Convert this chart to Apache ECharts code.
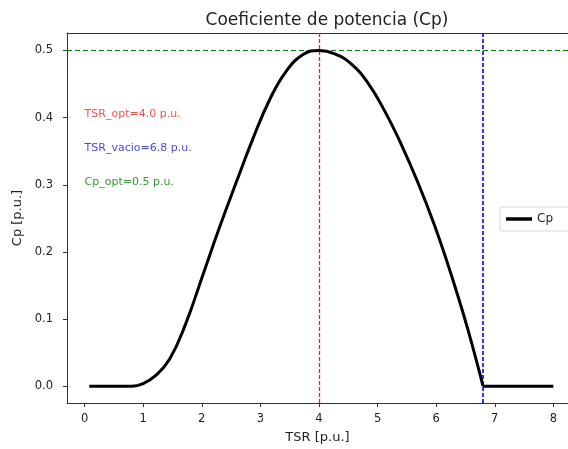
<!DOCTYPE html>
<html>
<head>
<meta charset="utf-8">
<script src="https://cdn.jsdelivr.net/npm/echarts@6/dist/echarts.min.js"></script>
<style>
html, body { margin: 0; padding: 0; background: #fff; }
#chart { width: 568px; height: 449px; }
</style>
</head>
<body>
<div id="chart"></div>
<script>
// curva Cp(TSR)
const tsr = [0.08, 0.5, 0.8, 1.0, 1.2, 1.45, 1.73, 2.02, 2.30, 2.59, 2.87, 3.16, 3.44, 3.73, 4.0,
             4.27, 4.55, 4.84, 5.12, 5.40, 5.69, 5.97, 6.25, 6.53, 6.8]
const cp  = [0, 0, 0, 0.004, 0.015, 0.040, 0.094, 0.166, 0.236, 0.304, 0.368, 0.427, 0.469, 0.494, 0.5,
             0.495, 0.480, 0.451, 0.410, 0.361, 0.303, 0.240, 0.168, 0.088, 0]
// tramo en vacio (Cp = 0)
const tsrTail = [6.8, 8.0]
const cpTail = [0, 0]

const xTicks = [0, 1, 2, 3, 4, 5, 6, 7, 8]
const yTicks = [0, 0.1, 0.2, 0.3, 0.4, 0.5]

const tsrOpt = 4.0
const tsrVacio = 6.8
const cpOpt = 0.5

const annoText = ['TSR_opt=4.0 p.u.', 'TSR_vacio=6.8 p.u.', 'Cp_opt=0.5 p.u.']
const annoY = [0.4, 0.35, 0.3]
const annoColor = ['#ff1a1a', '#1010ff', '#008000']
// linea de referencia de cada anotacion
const refLines = [{ xAxis: tsrOpt }, { xAxis: tsrVacio }, { yAxis: cpOpt }]
const refDash = [[4, 2], [4, 2], [5, 3]]
const refWidth = [1.3, 1.7, 1.1]

const font = 'DejaVu Sans'
const ec = echarts.init(document.getElementById('chart'))

const annoSeries = annoText.map((t, i) => ({
    type: 'scatter',
    data: [[0, annoY[i]]],
    symbolSize: 0,
    silent: true,
    z: 3,
    label: {
        show: true, position: 'right', distance: 0, offset: [0, -3],
        formatter: t, color: annoColor[i], fontFamily: font, fontSize: 11
    },
    markLine: {
        silent: true, symbol: 'none', label: { show: false },
        data: [Object.assign({
            lineStyle: { color: annoColor[i], type: refDash[i], width: refWidth[i], opacity: 1 }
        }, refLines[i])]
    }
}))

const cpLine = {
    name: 'Cp',
    type: 'line',
    symbol: 'none',
    lineStyle: { color: '#000', width: 3 },
    itemStyle: { color: '#000' },
    z: 5
}

const xRange = { type: 'value', min: -0.3, max: 8.25 }

ec.setOption({
    backgroundColor: '#fff',
    animation: false,
    title: {
        text: 'Coeficiente de potencia (Cp)',
        left: 322, top: 7, textAlign: 'center',
        textStyle: { fontFamily: font, fontSize: 17, fontWeight: 'normal', color: '#222' }
    },
    legend: {
        data: [{ name: 'Cp', icon: 'rect' }],
        left: 500, top: 207,
        itemWidth: 26, itemHeight: 3.5, itemGap: 10,
        backgroundColor: '#fff',
        borderColor: '#d8d8d8', borderWidth: 1, borderRadius: 3,
        padding: [6, 20, 6, 6],
        textStyle: { fontFamily: font, fontSize: 12, color: '#222' }
    },
    grid: { left: 67, top: 33, width: 501, height: 371 },
    xAxis: [
        Object.assign({}, xRange, {
            name: 'TSR [p.u.]', nameLocation: 'middle', nameGap: 28,
            nameTextStyle: { fontFamily: font, fontSize: 13, color: '#222' },
            axisLine: { show: true, onZero: false, lineStyle: { color: '#333' } },
            axisTick: { show: true, length: 4, customValues: xTicks, lineStyle: { color: '#333' } },
            axisLabel: { customValues: xTicks, fontFamily: font, fontSize: 11.5, color: '#222', margin: 10 },
            splitLine: { show: false }
        }),
        // borde superior del area de trazado
        Object.assign({}, xRange, {
            position: 'top',
            axisLine: { show: true, onZero: false, lineStyle: { color: '#333' } },
            axisTick: { show: false }, axisLabel: { show: false }, splitLine: { show: false }
        })
    ],
    yAxis: {
        type: 'value', min: -0.025, max: 0.526,
        name: 'Cp [p.u.]', nameLocation: 'middle', nameGap: 35, nameRotate: 90,
        nameTextStyle: { fontFamily: font, fontSize: 13, color: '#222' },
        axisLine: { show: true, onZero: false, lineStyle: { color: '#333' } },
        axisTick: { show: true, length: 4, customValues: yTicks, lineStyle: { color: '#333' } },
        axisLabel: { customValues: yTicks, formatter: v => v.toFixed(1), fontFamily: font, fontSize: 11.5, color: '#222', margin: 14 },
        splitLine: { show: false }
    },
    series: [
        Object.assign({}, cpLine, { data: tsr.map((x, i) => [x, cp[i]]), smooth: 0.45 }),
        Object.assign({}, cpLine, { data: tsrTail.map((x, i) => [x, cpTail[i]]) }),
        ...annoSeries
    ]
})
</script>
</body>
</html>
